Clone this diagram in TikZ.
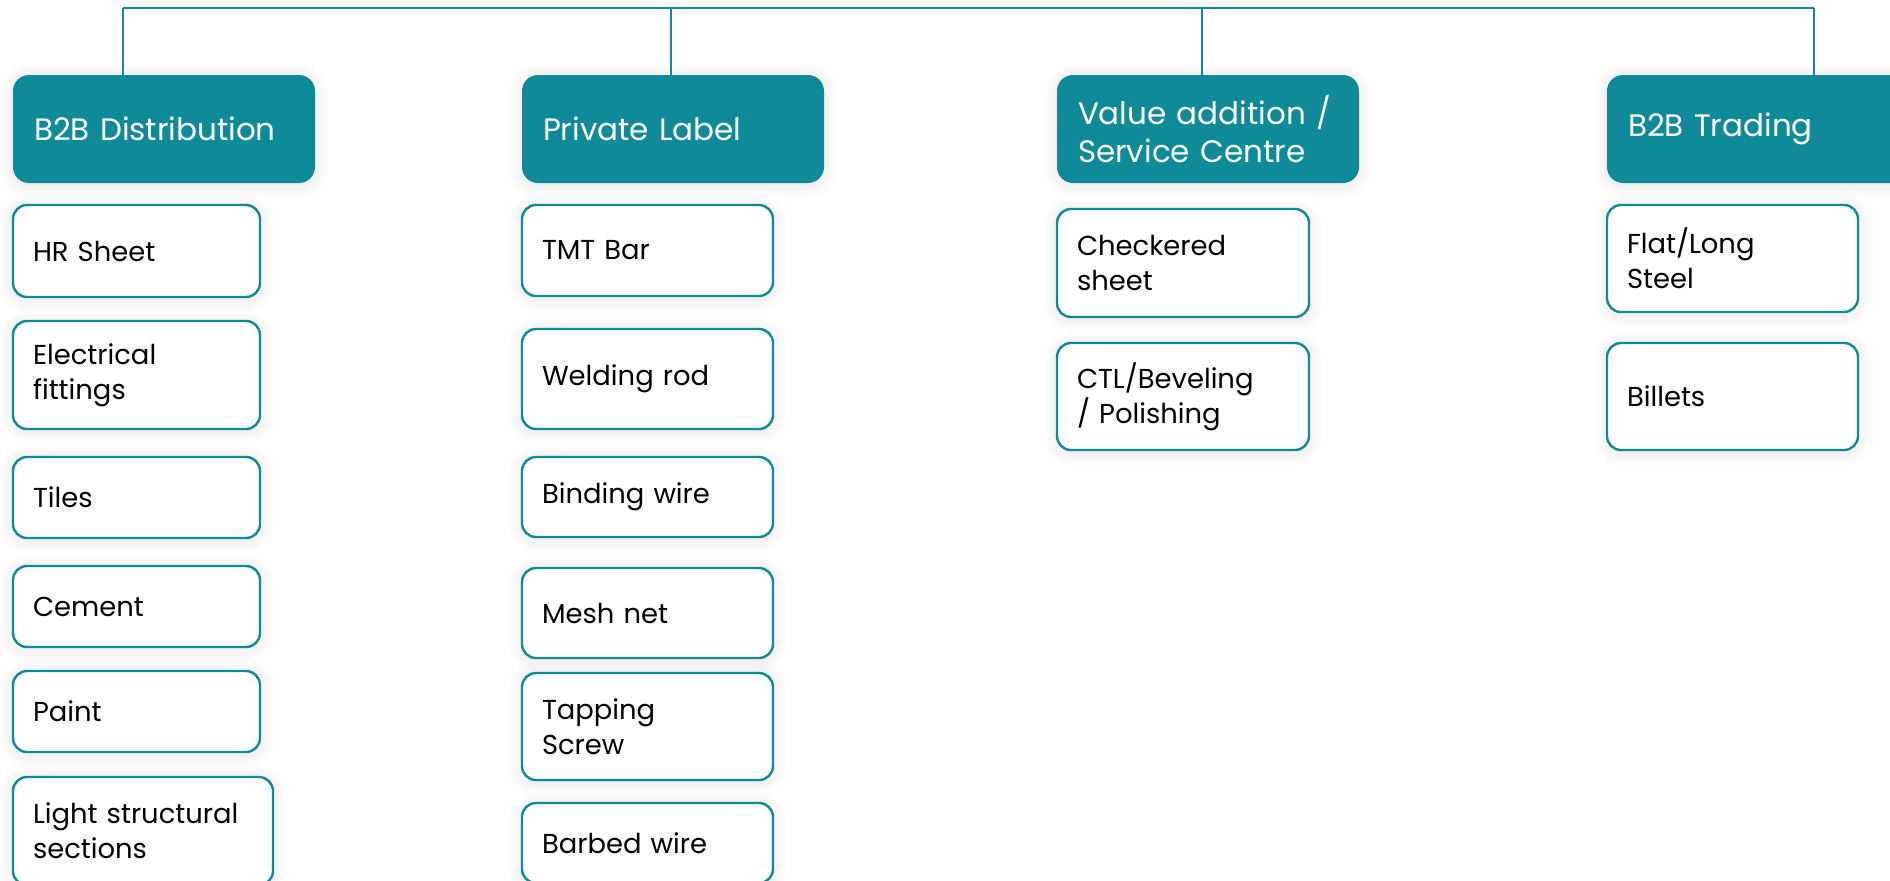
\documentclass[tikz,border=0pt]{standalone}
\usepackage{fontspec}
\setmainfont{Poppins}
\usepackage{xcolor}
\usetikzlibrary{positioning,shadows.blur}
\definecolor{segteal}{RGB}{14,138,152}

\begin{document}
\begin{tikzpicture}[x=0.5pt,y=-0.5pt,
  glow/.style={blur shadow={shadow xshift=0pt,shadow yshift=-1pt,shadow blur radius=7pt,
               shadow blur steps=8,shadow opacity=12}},
  hd/.style={fill=segteal,text=white,rounded corners=8pt,anchor=north west,align=left,
             text width=130pt,inner xsep=10.5pt,outer sep=0pt,minimum height=54pt,glow,
             font=\fontsize{15.5}{19}\selectfont},
  item/.style={draw=segteal,line width=1.2pt,fill=white,rounded corners=7pt,align=left,
               text width=#1,inner xsep=10pt,outer sep=0pt,glow,
               font=\fontsize{13.7}{17.5}\selectfont},
  item/.default=103.5pt,
  link/.style={draw=segteal,line width=0.7pt}]
  \useasboundingbox (0,0) rectangle (1890,880);
  \clip (0,0) rectangle (1890,880);

  % segment headers
  \node[hd] (dist) at (13,75) {B2B Distribution};
  \node[hd] (plabel) at (522,75) {Private Label};
  \node[hd] (vadd) at (1057,75) {Value addition /\\Service Centre};
  \node[hd] (trade) at (1607,75) {B2B Trading};

  % B2B distribution
  \node[item,minimum height=46pt,below=11pt of dist.south west,anchor=north west] (hr) {HR Sheet};
  \node[item,minimum height=54pt,below=12pt of hr.south west,anchor=north west] (elec) {Electrical\\fittings};
  \node[item,minimum height=40.5pt,below=14pt of elec.south west,anchor=north west] (tiles) {Tiles};
  \node[item,minimum height=40.5pt,below=14pt of tiles.south west,anchor=north west] (cem) {Cement};
  \node[item,minimum height=40.5pt,below=12pt of cem.south west,anchor=north west] (paint) {Paint};
  \node[item=110pt,minimum height=54pt,below=12.5pt of paint.south west,anchor=north west] (lss) {Light structural\\sections};

  % private label
  \node[item=105.5pt,minimum height=45.5pt,below=11pt of plabel.south west,anchor=north west] (tmt) {TMT Bar};
  \node[item=105.5pt,minimum height=50pt,below=16.5pt of tmt.south west,anchor=north west] (weld) {Welding rod};
  \node[item=105.5pt,minimum height=40pt,below=14pt of weld.south west,anchor=north west] (bind) {Binding wire};
  \node[item=105.5pt,minimum height=45pt,below=15.5pt of bind.south west,anchor=north west] (mesh) {Mesh net};
  \node[item=105.5pt,minimum height=53.5pt,below=7.5pt of mesh.south west,anchor=north west] (tap) {Tapping\\Screw};
  \node[item=105.5pt,minimum height=40pt,below=11.5pt of tap.south west,anchor=north west] (barb) {Barbed wire};

  % value addition / service centre
  \node[item=106pt,minimum height=54pt,below=13pt of vadd.south west,anchor=north west] (chk) {Checkered\\sheet};
  \node[item=106pt,minimum height=53.5pt,below=13pt of chk.south west,anchor=north west] (ctl) {CTL/Beveling\\/ Polishing};

  % B2B trading
  \node[item=105.5pt,minimum height=53.5pt,below=11pt of trade.south west,anchor=north west] (flat) {Flat/Long\\Steel};
  \node[item=105.5pt,minimum height=53.5pt,below=15.5pt of flat.south west,anchor=north west] (bill) {Billets};

  % top bus and drops
  \coordinate (bus1) at (123,8);
  \coordinate (bus2) at (671,8);
  \coordinate (bus3) at (1202,8);
  \coordinate (bus4) at (1814,8);
  \draw[link] (bus1) -- (bus4);
  \foreach \b/\h in {bus1/dist,bus2/plabel,bus3/vadd,bus4/trade}
    \draw[link] (\b) -- (\b |- \h.north);
\end{tikzpicture}
\end{document}
